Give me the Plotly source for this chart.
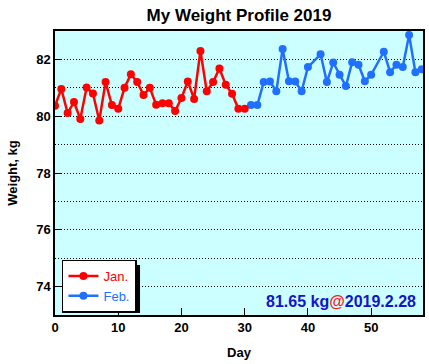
import plotly.graph_objects as go

jan_days = list(range(0, 31))
jan_weight = [80.37, 80.96, 80.11, 80.50, 79.90, 81.01, 80.80, 79.85, 81.20, 80.39,
              80.26, 81.00, 81.48, 81.20, 80.75, 81.00, 80.40, 80.46, 80.46, 80.18,
              80.64, 81.22, 80.61, 82.30, 80.88, 81.20, 81.68, 81.11, 80.79, 80.26,
              80.26]
feb_days = [31, 32, 33, 34, 35, 36, 37, 38, 39, 40, 42, 43, 44, 45, 46, 47, 48, 49, 50,
            52, 53, 54, 55, 56, 57, 58]
feb_weight = [80.39, 80.39, 81.20, 81.22, 80.88, 82.37, 81.23, 81.22, 80.88, 81.73,
              82.18, 81.20, 81.89, 81.46, 81.06, 81.90, 81.81, 81.23, 81.46,
              82.27, 81.55, 81.81, 81.73, 82.86, 81.55, 81.65]
y_ticks = [74, 76, 78, 80, 82]
x_ticks = [0, 10, 20, 30, 40, 50]

RED = "#ff0000"
BLUE = "#2070ff"
FONT = "Liberation Sans"

fig = go.Figure()
# connector between months
fig.add_trace(go.Scatter(x=[jan_days[-1], feb_days[0]], y=[jan_weight[-1], feb_weight[0]],
                         mode="lines", line=dict(color=BLUE, width=2.5),
                         showlegend=False, hoverinfo="skip"))
fig.add_trace(go.Scatter(x=feb_days, y=feb_weight, mode="lines+markers",
                         name="<span style='color:%s'>Feb.</span>" % BLUE,
                         line=dict(color=BLUE, width=2.5),
                         marker=dict(color=BLUE, size=8), legendrank=2))
fig.add_trace(go.Scatter(x=jan_days, y=jan_weight, mode="lines+markers",
                         name="<span style='color:%s'>Jan.</span>" % RED,
                         line=dict(color=RED, width=2.5),
                         marker=dict(color=RED, size=8), legendrank=1))

L, R, T, B = 55, 4, 31, 49
W, H = 429, 364
pw, ph = W - L - R, H - T - B

def px(xp):
    return (xp - L) / pw

def py(yp):
    return (H - B - yp) / ph

# legend shadow
fig.add_shape(type="rect", xref="paper", yref="paper",
              x0=px(65), x1=px(140.5), y0=py(313), y1=py(265),
              fillcolor="black", line=dict(width=0), layer="above")

fig.add_annotation(xref="paper", yref="paper", x=px(420), y=py(301),
                   xanchor="right", yanchor="middle", showarrow=False,
                   text="81.65 kg<span style='color:#ff2020'>@</span>2019.2.28",
                   font=dict(family=FONT, size=16, color="#1414c8", weight="bold"))

fig.update_layout(
    width=W, height=H,
    margin=dict(l=L, r=R, t=T, b=B),
    paper_bgcolor="white", plot_bgcolor="#ccffff",
    title=dict(text="<b>My Weight Profile 2019</b>", x=px(240), xref="paper", xanchor="center",
               y=1 - 15 / H, yanchor="middle",
               font=dict(family=FONT, size=17, color="black")),
    font=dict(family=FONT, size=13, color="black"),
    legend=dict(x=px(62), y=py(286), xanchor="left", yanchor="middle",
                bgcolor="white", bordercolor="black", borderwidth=1.5,
                font=dict(family=FONT, size=13), itemwidth=30,
                tracegroupgap=0),
    showlegend=True,
)
fig.update_xaxes(range=[0, 58.2], tickvals=x_ticks, ticks="inside", ticklen=7,
                 tickcolor="black", showgrid=False, zeroline=False,
                 showline=True, linecolor="black", linewidth=1.5, mirror=True,
                 tickfont=dict(family=FONT, size=13, weight="bold"),
                 title=dict(text="<b>Day</b>", font=dict(family=FONT, size=13), standoff=14))
fig.update_yaxes(range=[73, 83], tickvals=y_ticks, ticks="inside", ticklen=7,
                 tickcolor="black", showgrid=True, gridcolor="black", gridwidth=1,
                 griddash="1px,2px", zeroline=False,
                 minor=dict(dtick=1, showgrid=True, gridcolor="black", gridwidth=1,
                            griddash="1px,2px", ticks=""),
                 showline=True, linecolor="black", linewidth=1.5, mirror=True,
                 tickfont=dict(family=FONT, size=13, weight="bold"),
                 title=dict(text="<b>Weight, kg</b>", font=dict(family=FONT, size=13), standoff=16))

fig.write_html("out.html", config={"displayModeBar": False},
               post_script="document.body.style.margin='0';")
